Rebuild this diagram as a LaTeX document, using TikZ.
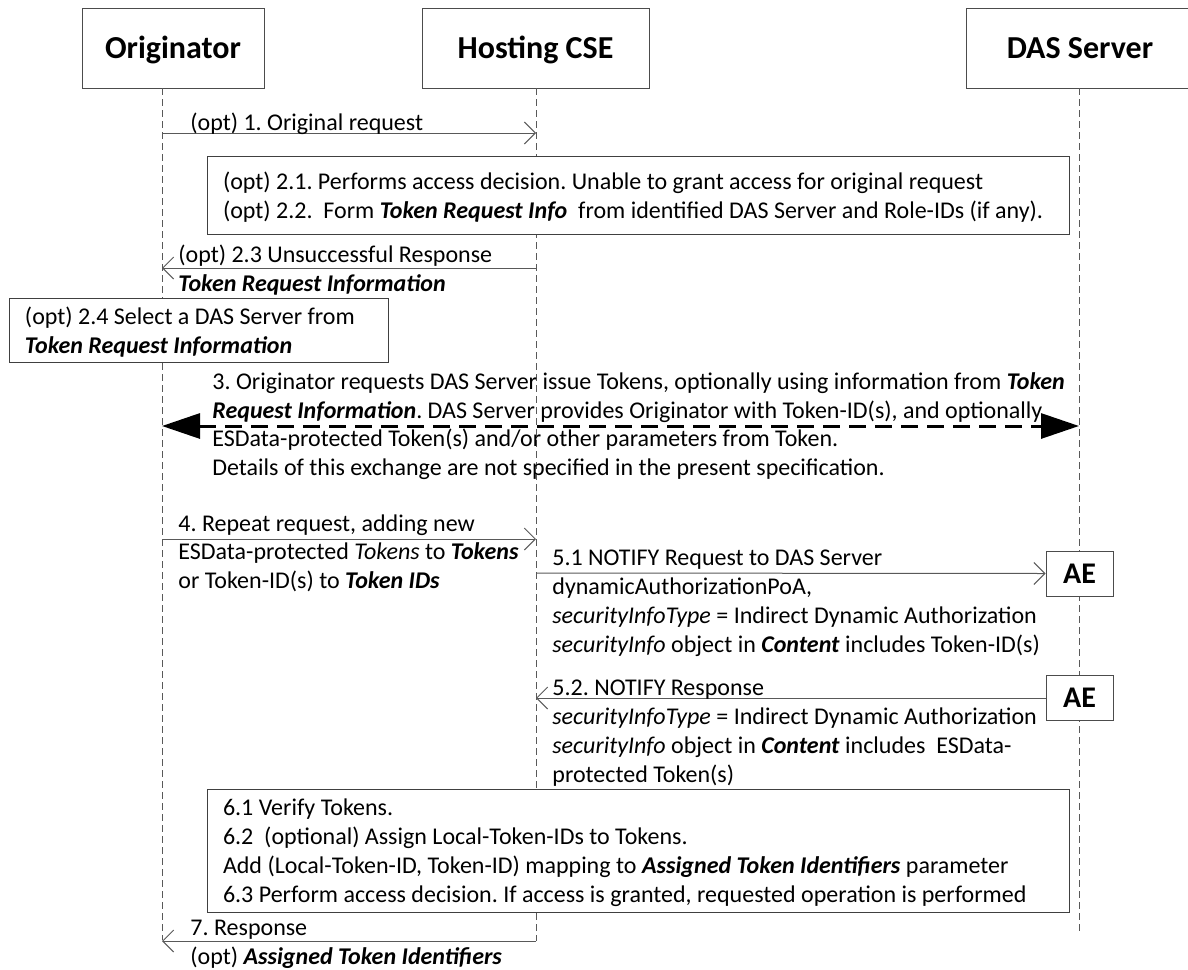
\documentclass[tikz,border=0pt]{standalone}
\usepackage{fontspec}
\setmainfont{Carlito}
\usetikzlibrary{arrows.meta}
\frenchspacing
\newcommand{\bodyfont}{\fontsize{12}{14.4}\selectfont}
\newcommand{\bi}[1]{\textbf{\textit{#1}}}

\begin{document}
\begin{tikzpicture}[
  x=0.5pt,y=-0.5pt,
  head/.style={draw=black!70,fill=white,minimum height=40pt,text height=10.3pt,text depth=0pt,
    font=\fontsize{16}{19.2}\selectfont\bfseries},
  life/.style={draw=black!65,line width=0.5pt,dash pattern=on 3.5pt off 2pt},
  note/.style={draw=black!75,fill=white,align=flush left,inner xsep=8pt,inner ysep=0pt,font=\bodyfont,
    execute at begin node=\rule{0pt}{13pt},execute at end node=\strut},
  msg/.style={anchor=north west,inner sep=0pt,align=flush left,font=\bodyfont,
    execute at begin node=\strut,execute at end node=\strut},
  ae/.style={draw=black!70,fill=white,minimum width=33.5pt,minimum height=22.5pt,text height=9.7pt,text depth=0pt,
    font=\fontsize{15}{18}\selectfont\bfseries},
  arr/.style={-{Straight Barb[length=5.5pt,width=11pt]},draw=black!65,line width=0.5pt},
  dbl/.style={{Triangle[length=19pt,width=12.5pt]}-{Triangle[length=19pt,width=12.5pt]},line width=1.5pt,dash pattern=on 8.5pt off 4.5pt}
]
\useasboundingbox (0,0) rectangle (1188,969);

% participants
\node[head,minimum width=91pt] (orig) at (173,48) {Originator};
\node[head,minimum width=113.5pt] (cse) at (535.5,48) {Hosting CSE};
\node[head,minimum width=114pt] (das) at (1080,48) {DAS Server};

% lifelines
\coordinate (oEnd) at (162,940);
\coordinate (cEnd) at (536,941);
\coordinate (dEnd) at (1079,932);
\draw[life] (orig.south -| oEnd) -- (oEnd);
\draw[life] (cse.south -| cEnd) -- (cEnd);
\draw[life] (das.south -| dEnd) -- (dEnd);

% boxes on the lifelines
\node[note,text width=415pt,minimum height=39pt] (decide) at (638,195)
  {(opt) 2.1. Performs access decision. Unable to grant access for original request\\
   (opt) 2.2.\ \ Form \bi{Token Request Info}\ \ from identified DAS Server and Role-IDs (if any).};
\node[note,text width=173.5pt,minimum height=28.5pt] (select) at (198.5,330.5)
  {(opt) 2.4 Select a DAS Server from\\ \bi{Token Request Information}};
\node[note,text width=415pt,minimum height=61.5pt] (verify) at (638,850.5)
  {6.1 Verify Tokens.\\
   6.2\ \ (optional) Assign Local-Token-IDs to Tokens.\\
   Add (Local-Token-ID, Token-ID) mapping to \bi{Assigned Token Identifiers} parameter\\
   6.3 Perform access decision. If access is granted, requested operation is performed};
\node[ae] (ae1) at (1079.5,573.5) {AE};
\node[ae] (ae2) at (1079.5,698) {AE};

% messages
\coordinate (o1) at (162,133);  \coordinate (c1) at (536,133);
\coordinate (o2) at (162,268);  \coordinate (c2) at (536,268);
\coordinate (o3) at (162,426);  \coordinate (d3) at (1079,426);
\coordinate (o4) at (162,539);  \coordinate (c4) at (536,539);
\coordinate (c51) at (536,573);
\coordinate (c52) at (536,698);
\coordinate (o7) at (162,941);

\draw[arr] (o1) -- (c1);
\draw[arr] (c2) -- (o2);
\draw[dbl] (o3) -- (d3);
\draw[arr] (o4) -- (c4);
\draw[arr] (c51) -- (ae1.west);
\draw[arr] (ae2.west) -- (c52);
\draw[arr] (cEnd) -- (o7);

% labels
\node[msg] (m1) at (190,110) {(opt) 1. Original request};
\node[msg] (m23) at (178,245) {(opt) 2.3 Unsuccessful Response\\ \bi{Token Request Information}};
\node[msg] (m3) at (212,372)
  {3. Originator requests DAS Server issue Tokens, optionally using information from \bi{Token}\\
   \bi{Request Information}. DAS Server provides Originator with Token-ID(s), and optionally\\
   ESData-protected Token(s) and/or other parameters from Token.\\
   Details of this exchange are not specified in the present specification.};
\node[msg] (m4) at (178,514)
  {4. Repeat request, adding new\\
   ESData-protected \textit{Tokens} to \bi{Tokens}\\
   or Token-ID(s) to \bi{Token IDs}};
\node[msg] (m51) at (552,550)
  {5.1 NOTIFY Request to DAS Server\\
   dynamicAuthorizationPoA,\\
   \textit{securityInfoType} = Indirect Dynamic Authorization\\
   \textit{securityInfo} object in \bi{Content} includes Token-ID(s)};
\node[msg] (m52) at (552,680)
  {5.2. NOTIFY Response\\
   \textit{securityInfoType} = Indirect Dynamic Authorization\\
   \textit{securityInfo} object in \bi{Content} includes\ \ ESData-\\
   protected Token(s)};
\node[msg] (m7) at (190,920) {7. Response\\ (opt) \bi{Assigned Token Identifiers}};
\end{tikzpicture}
\end{document}
